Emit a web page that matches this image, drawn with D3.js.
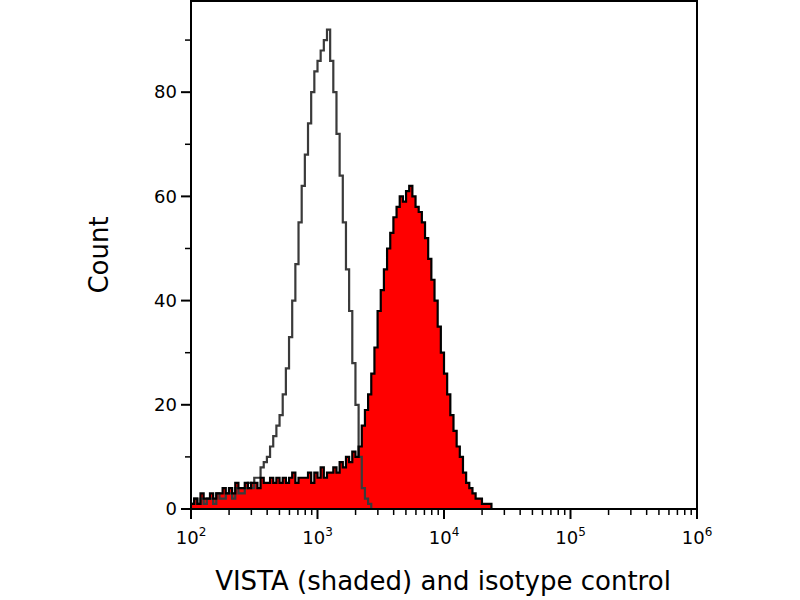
<html><head>
<script src="https://d3js.org/d3.v7.min.js"></script>
<style>
body { margin: 0; background: #fff; }
text { font-family: "DejaVu Sans", sans-serif; }
</style>
</head><body>
<svg id="chart" width="800" height="600"></svg>
<script>
// bins: log10 start 2.0, width 0.025 decade
const binStart = 2.0;
const binWidth = 0.025;
const xTicks = [2, 3, 4, 5, 6];
const yTicks = [0, 20, 40, 60, 80];

const vista = [1,2,1,3,2,2,3,2,3,3,4,3,
  4,3,5,4,4,5,4,5,
  5,4,6,5,5,6,5,6,
  5,6,5,6,7,5,6,6,
  6,7,5,7,6,8,6,7,
  7,8,7,9,8,10,9,11,
  10,12,16,19, 22,26,31,38, 42,46,50,53, 56,58,60,59,
  61,62,60,58, 57,55,52,48, 44,40,35,30, 26,22,18,15,
  12,10,7,5, 4,3,2,2, 1,1,1,0, 0,0,0,0];

const isotype = [1,2,1,2,1,2,2,1,3,2,2,3,
  3,2,4,3,3,4,5,4,
  6,6,8,9,10,12,14,16,18,22,27,33,40,47,55,62,68,74,80,84,
  86,88,90,92,86,80,72,64,55,46,38,28,20,10,4,2,1,0];

const margin = {top: 1, right: 103, bottom: 91, left: 191};
const W = 800 - margin.left - margin.right;
const H = 600 - margin.top - margin.bottom;

const svg = d3.select("#chart");
const g = svg.append("g").attr("transform", `translate(${margin.left},${margin.top})`);

const x = d3.scaleLinear().domain([2, 6]).range([0, W]);
const y = d3.scaleLinear().domain([0, 97.5]).range([H, 0]);

function pts(arr) {
  const p = arr.map((v, i) => [binStart + i * binWidth, v]);
  p.push([binStart + arr.length * binWidth, 0]);
  return p;
}

const area = d3.area().x(d => x(d[0])).y0(H).y1(d => y(d[1])).curve(d3.curveStepAfter);
const line = d3.line().x(d => x(d[0])).y(d => y(d[1])).curve(d3.curveStepAfter);

g.append("path").datum(pts(vista)).attr("d", area).attr("fill", "#ff0000");
g.append("path").datum(pts(isotype)).attr("d", line)
  .attr("fill", "none").attr("stroke", "#3a3a3a").attr("stroke-width", 2.2);
g.append("path").datum(pts(vista)).attr("d", line)
  .attr("fill", "none").attr("stroke", "#000").attr("stroke-width", 2.2);

// frame
g.append("rect").attr("width", W).attr("height", H)
  .attr("fill", "none").attr("stroke", "#000").attr("stroke-width", 2);

// x ticks
const minor = [];
for (let d = 2; d < 6; d++) for (let k = 2; k <= 9; k++) minor.push(d + Math.log10(k));
g.selectAll(".xminor").data(minor).enter().append("line")
  .attr("x1", d => x(d)).attr("x2", d => x(d)).attr("y1", H).attr("y2", H + 6)
  .attr("stroke", "#000").attr("stroke-width", 1.5);
g.selectAll(".xmajor").data(xTicks).enter().append("line")
  .attr("x1", d => x(d)).attr("x2", d => x(d)).attr("y1", H).attr("y2", H + 10)
  .attr("stroke", "#000").attr("stroke-width", 2);
const xl = g.selectAll(".xlab").data(xTicks).enter().append("text")
  .attr("x", d => x(d)).attr("y", H + 35).attr("text-anchor", "middle")
  .attr("font-size", 18);
xl.append("tspan").text("10");
xl.append("tspan").attr("dy", -8).attr("font-size", 12).text(d => d);

// y ticks
const yMinor = [10, 30, 50, 70, 90];
g.selectAll(".yminor").data(yMinor).enter().append("line")
  .attr("x1", -6).attr("x2", 0).attr("y1", d => y(d)).attr("y2", d => y(d))
  .attr("stroke", "#000").attr("stroke-width", 1.5);
g.selectAll(".ymajor").data(yTicks).enter().append("line")
  .attr("x1", -10).attr("x2", 0).attr("y1", d => y(d)).attr("y2", d => y(d))
  .attr("stroke", "#000").attr("stroke-width", 2);
g.selectAll(".ylab").data(yTicks).enter().append("text")
  .attr("x", -14).attr("y", d => y(d)).attr("dy", "0.35em").attr("text-anchor", "end")
  .attr("font-size", 18).text(d => d);

svg.append("text").attr("transform", "translate(108,255) rotate(-90)")
  .attr("text-anchor", "middle").attr("font-size", 26).text("Count");
svg.append("text").attr("x", 443).attr("y", 590)
  .attr("text-anchor", "middle").attr("font-size", 26).text("VISTA (shaded) and isotype control");
</script>
</body></html>
